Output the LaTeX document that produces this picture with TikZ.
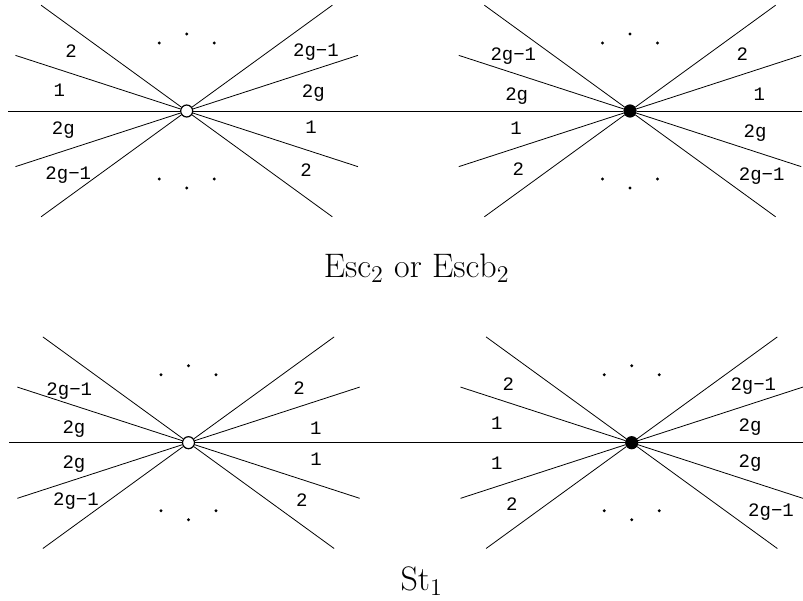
\documentclass[tikz,border=0pt]{standalone}
\usepackage{fontspec}
\newfontfamily\labfont{Liberation Mono}
\usetikzlibrary{calc}

\begin{document}
\begin{tikzpicture}[x=0.5pt, y=-0.5pt,
  vert/.style={circle, draw, semithick, inner sep=0pt, minimum size=6pt},
  dot/.style={circle, fill, inner sep=0pt, minimum size=1.6pt},
  lab/.style={font=\fontsize{9.5}{11}\labfont, inner sep=0pt,
              text height=5.7pt, text depth=0pt},
  captext/.style={font=\fontsize{17}{20}\selectfont, anchor=base}]
\useasboundingbox (0,0) rectangle (803,600);

% the four vertices on the two horizontal lines
\node[vert, fill=white] (wa) at (186.7,111) {};
\node[vert, fill=black] (ba) at (630,111) {};
\node[vert, fill=white] (wb) at (188.5,442.7) {};
\node[vert, fill=black] (bb) at (631.7,442.7) {};
\coordinate (la) at (8,111);   \coordinate (ra) at (802,111);
\coordinate (lb) at (9,442.7); \coordinate (rb) at (803,442.7);
\draw (la) -- (wa) -- (ba) -- (ra);
\draw (lb) -- (wb) -- (bb) -- (rb);

% rays and dots round each vertex
\foreach \v in {wa,ba,wb,bb}{
  \foreach \a in {18,36,144,162,198,216,324,342}{
    \coordinate (\v-\a) at ($(\v)+(\a:180)$);
    \draw (\v) -- (\v-\a);
  }
  \foreach \dx/\dy [count=\k] in {-27.5/-68, 0/-77, 27.5/-68, -27.5/68, 0/77, 27.5/68}
    \node[dot] (\v-d\k) at ($(\v)+(\dx,\dy)$) {};
}

% sector labels
\foreach \x/\y/\t [count=\i] in {
    71/51.7/2, 59.3/90.7/1, 63.3/129/2g, 68.3/173.3/2g−1,
    316/50.7/2g−1, 313.3/91.7/2g, 311/127.7/1, 306/171/2,
    513.3/54.3/2g−1, 516.7/94.3/2g, 516/128.3/1, 518.3/170/2,
    742.3/54.3/2, 759.3/94.3/1, 755/131.7/2g, 761.7/175/2g−1,
    69.3/389.3/2g−1, 74/427.7/2g, 74/462.7/2g, 76/500/2g−1,
    299/389/2, 315.7/428.3/1, 316/460/1, 301.7/501/2,
    508.3/385/2, 496.7/424/1, 496.7/463.3/1, 511.7/505/2,
    753.3/385/2g−1, 750/426/2g, 750/461.7/2g, 771/510.7/2g−1}
  \node[lab] (t\i) at (\x,\y) {\t};

\node[captext] (capa) at (416.7,277.3) {Esc$_2$ or Escb$_2$};
\node[captext] (capb) at (421.7,590) {St$_1$};
\end{tikzpicture}
\end{document}
